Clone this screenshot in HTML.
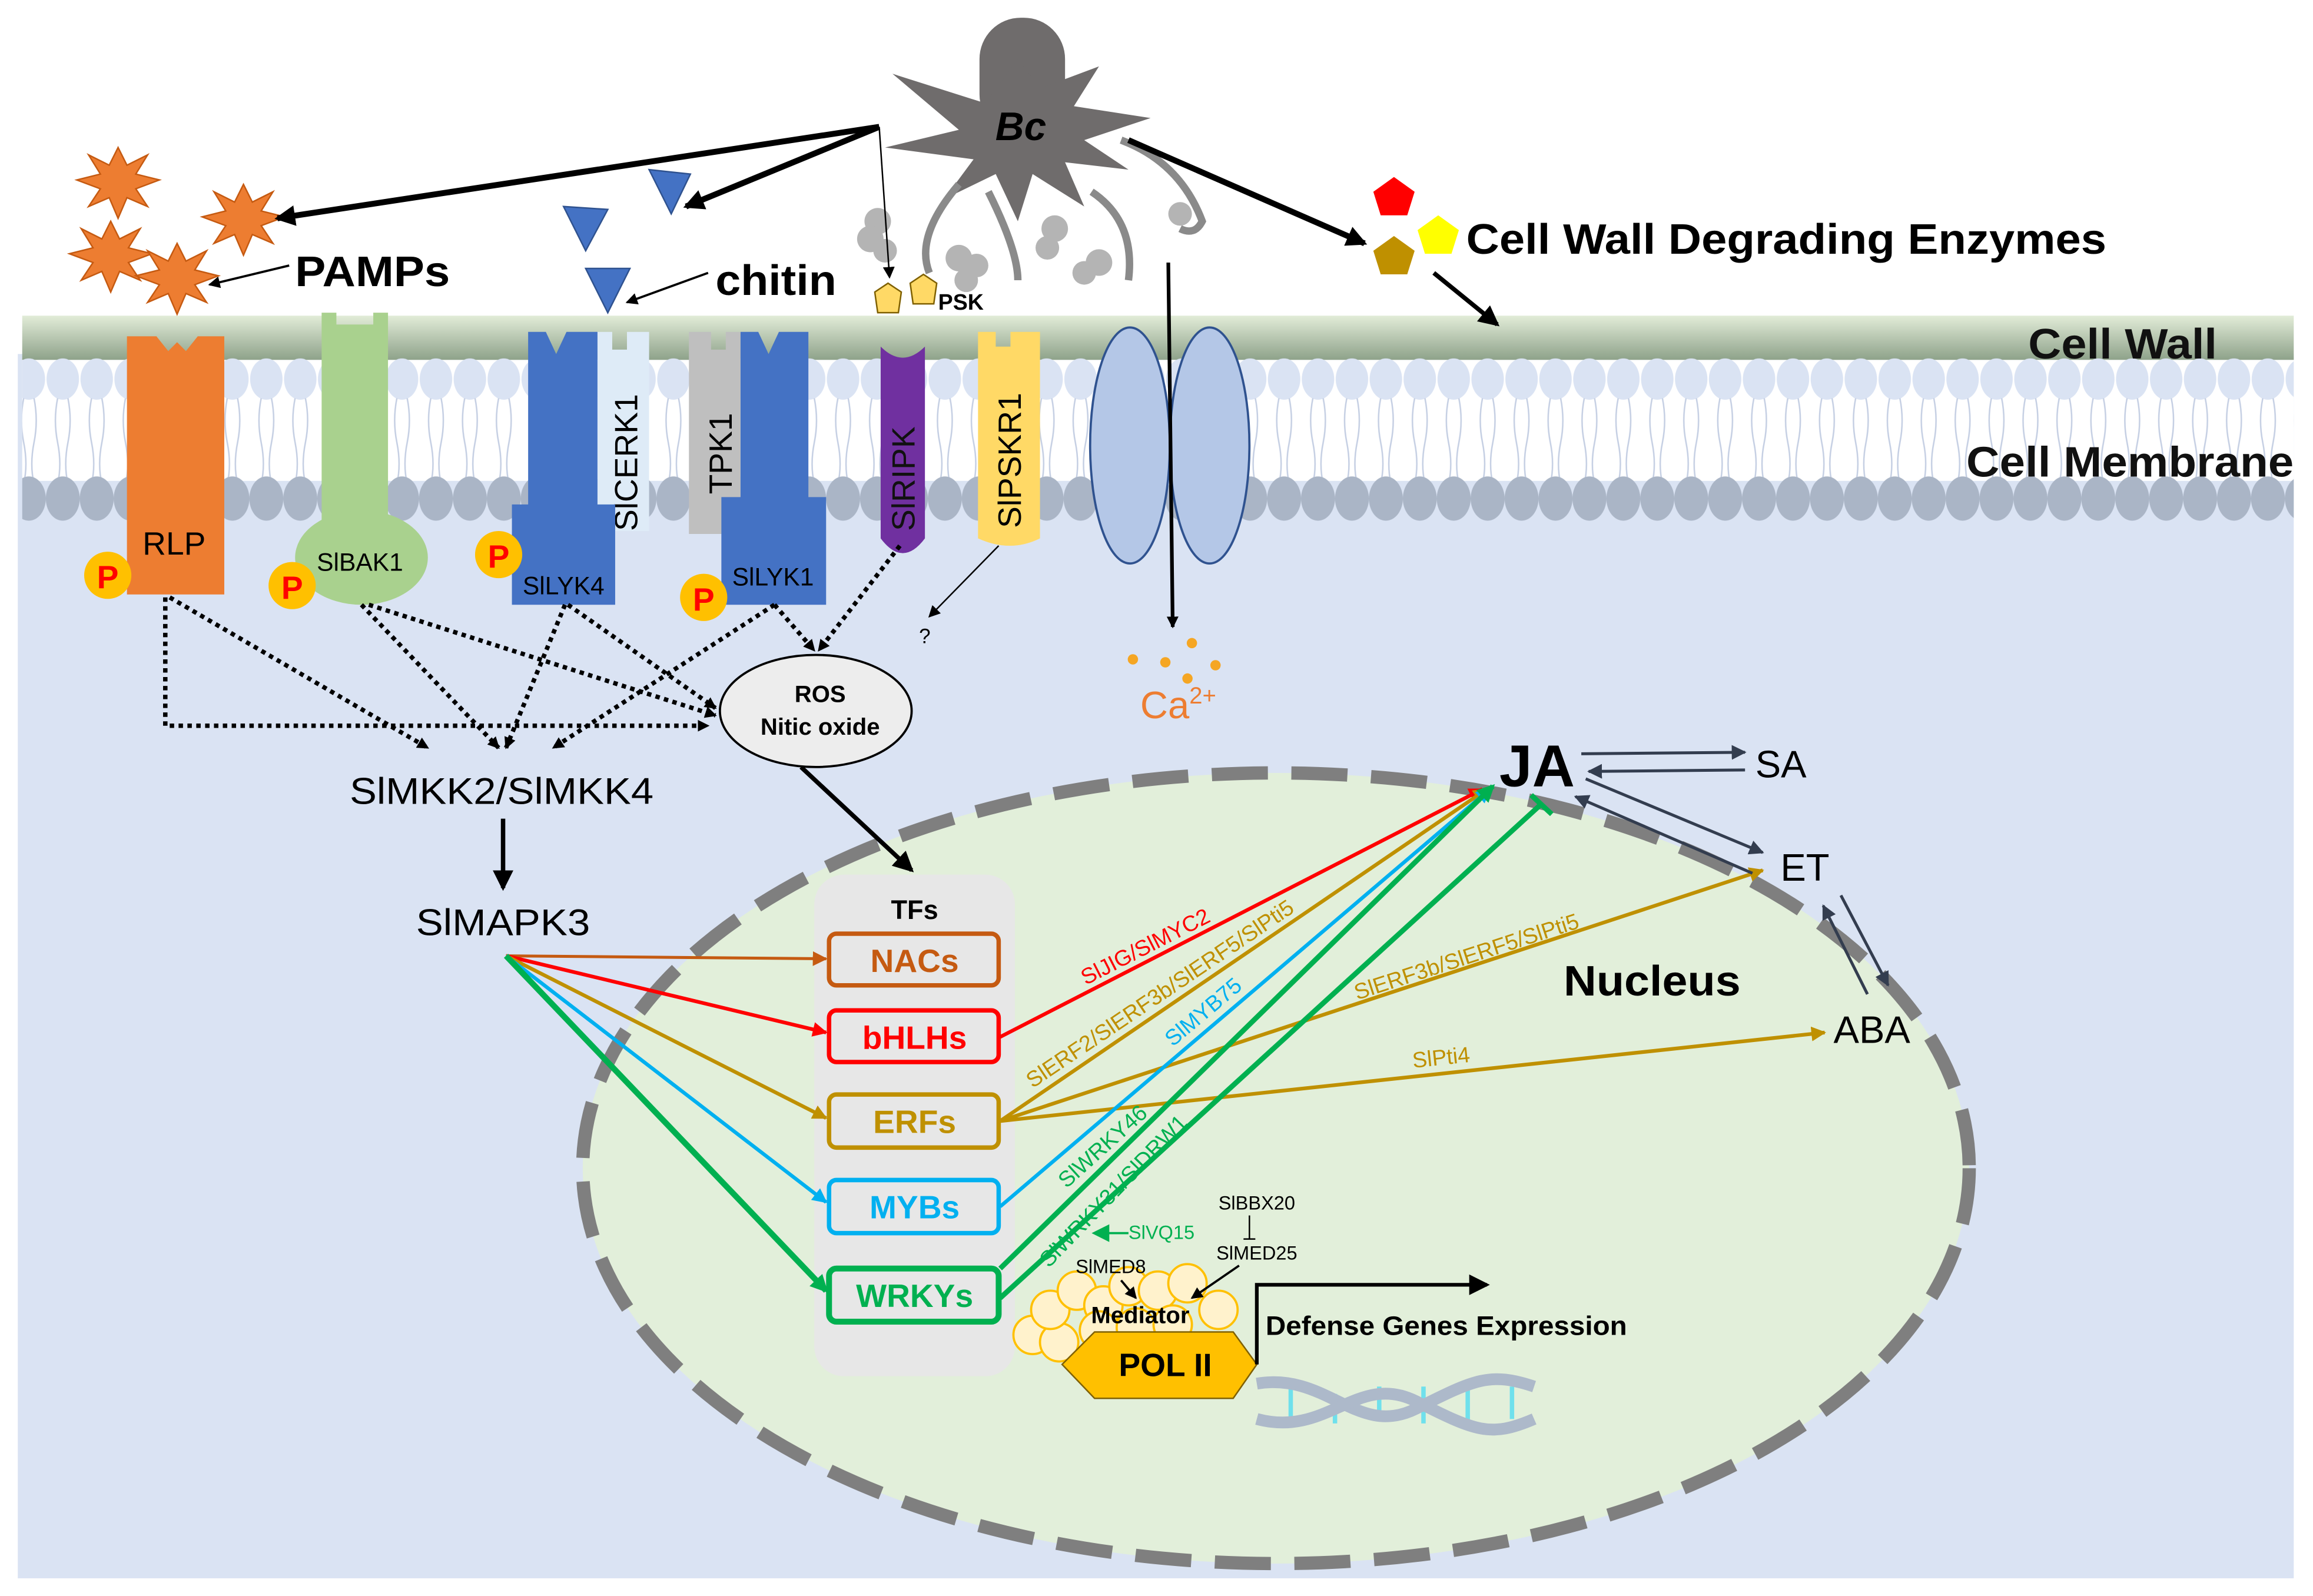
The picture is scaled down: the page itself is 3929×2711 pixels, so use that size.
<!DOCTYPE html>
<html><head><meta charset="utf-8"><style>html,body{margin:0;padding:0;background:#fff}svg{display:block}text{font-family:"Liberation Sans",Arial,sans-serif}</style></head>
<body>
<svg width="3929" height="2711" viewBox="0 0 1568 1082" xmlns="http://www.w3.org/2000/svg">
<defs>
<linearGradient id="cw" x1="0" y1="0" x2="0" y2="1"><stop offset="0" stop-color="#e2ecd8"/><stop offset="1" stop-color="#8ea28a"/></linearGradient>
<pattern id="tb" x="8" y="0" width="23" height="400" patternUnits="userSpaceOnUse"><ellipse cx="11.5" cy="257" rx="11" ry="14" fill="#dae3f3"/><path d="M8 270 q-3 15 0 30 q3 15 0 28 M15 270 q3 15 0 30 q-3 15 0 28" stroke="#c5cfe3" stroke-width="1" fill="none"/></pattern>
<pattern id="bb" x="8" y="0" width="23" height="400" patternUnits="userSpaceOnUse"><ellipse cx="11.5" cy="338" rx="11.5" ry="15" fill="#aab5c6"/></pattern>
<marker id="a" markerWidth="8" markerHeight="8" refX="7" refY="4" orient="auto" markerUnits="userSpaceOnUse"><path d="M0 0L8 4L0 8z" fill="#000"/></marker>
<marker id="ab" markerWidth="14" markerHeight="14" refX="12" refY="7" orient="auto" markerUnits="userSpaceOnUse"><path d="M0 0L14 7L0 14z" fill="#000"/></marker>
<marker id="ad" markerWidth="10" markerHeight="10" refX="9" refY="5" orient="auto" markerUnits="userSpaceOnUse"><path d="M0 0L10 5L0 10z" fill="#333d4f"/></marker>
<marker id="ao" markerWidth="10" markerHeight="10" refX="9" refY="5" orient="auto" markerUnits="userSpaceOnUse"><path d="M0 0L10 5L0 10z" fill="#c55a11"/></marker>
<marker id="ar" markerWidth="10" markerHeight="10" refX="9" refY="5" orient="auto" markerUnits="userSpaceOnUse"><path d="M0 0L10 5L0 10z" fill="#f00"/></marker>
<marker id="ay" markerWidth="10" markerHeight="10" refX="9" refY="5" orient="auto" markerUnits="userSpaceOnUse"><path d="M0 0L10 5L0 10z" fill="#bf9000"/></marker>
<marker id="ac" markerWidth="10" markerHeight="10" refX="9" refY="5" orient="auto" markerUnits="userSpaceOnUse"><path d="M0 0L10 5L0 10z" fill="#00b0f0"/></marker>
<marker id="ag" markerWidth="12" markerHeight="12" refX="10" refY="6" orient="auto" markerUnits="userSpaceOnUse"><path d="M0 0L12 6L0 12z" fill="#00b050"/></marker>
</defs>
<rect width="1568" height="1082" fill="#fff"/>
<!-- cell -->
<rect x="12" y="240" width="1543" height="830" fill="#dae3f3"/>
<rect x="15" y="214" width="1540" height="30" fill="url(#cw)"/>
<rect x="15" y="244" width="1540" height="82" fill="#fff"/>
<rect x="15" y="240" width="1540" height="90" fill="url(#tb)"/>
<rect x="15" y="322" width="1540" height="34" fill="url(#bb)"/>
<text x="1375" y="243" font-size="29" font-weight="bold" textLength="128" lengthAdjust="spacingAndGlyphs" fill="#111">Cell Wall</text>
<text x="1333" y="323" font-size="29" font-weight="bold" textLength="222" lengthAdjust="spacingAndGlyphs" fill="#111">Cell Membrane</text>
<!-- nucleus -->
<ellipse cx="865" cy="792" rx="470" ry="268" fill="#e2efda" stroke="#7f7f7f" stroke-width="9" stroke-dasharray="38 16"/>
<text x="1060" y="675" font-size="29" font-weight="bold" textLength="120" lengthAdjust="spacingAndGlyphs">Nucleus</text>
<!-- fungus -->
<rect x="664" y="12" width="58" height="80" rx="28" fill="#6f6c6c"/>
<polygon points="690,40 705,60 745,45 728,72 780,80 735,95 765,115 722,110 735,140 700,118 690,150 675,118 640,135 660,108 600,100 650,88 605,50 668,70" fill="#6f6c6c"/>
<text x="692" y="95" font-size="27" font-weight="bold" font-style="italic" text-anchor="middle">Bc</text>
<g stroke="#8a8a8a" stroke-width="5" fill="none">
<path d="M650 125 Q620 160 630 185"/><path d="M670 130 Q690 170 690 190"/><path d="M740 130 Q770 150 765 190"/><path d="M760 95 Q800 110 815 150 Q810 160 800 155"/>
</g>
<g fill="#b4b4b4"><circle cx="595" cy="150" r="9"/><circle cx="590" cy="162" r="9"/><circle cx="600" cy="170" r="8"/><circle cx="650" cy="175" r="9"/><circle cx="662" cy="180" r="8"/><circle cx="655" cy="190" r="8"/><circle cx="715" cy="155" r="9"/><circle cx="710" cy="168" r="8"/><circle cx="745" cy="178" r="9"/><circle cx="735" cy="185" r="8"/><circle cx="800" cy="145" r="8"/></g>
<!-- PAMPs stars -->
<g fill="#ed7d31" stroke="#c55a11" stroke-width="1">
<polygon points="80,100 86,112 100,105 92,118 108,122 92,128 100,140 86,134 80,148 74,134 60,140 68,128 52,122 68,118 60,105 74,112"/>
<polygon points="165,125 171,137 185,130 177,143 193,147 177,153 185,165 171,159 165,173 159,159 145,165 153,153 137,147 153,143 145,130 159,137"/>
<polygon points="75,150 81,162 95,155 87,168 103,172 87,178 95,190 81,184 75,198 69,184 55,190 63,178 47,172 63,168 55,155 69,162"/>
<polygon points="120,165 126,177 140,170 132,183 148,187 132,193 140,205 126,199 120,213 114,199 100,205 108,193 92,187 108,183 100,170 114,177"/>
</g>
<text x="200" y="194" font-size="29" font-weight="bold" textLength="105" lengthAdjust="spacingAndGlyphs">PAMPs</text>
<line x1="196" y1="180" x2="142" y2="193" stroke="#000" stroke-width="1.5" marker-end="url(#a)"/>
<!-- chitin -->
<g fill="#4472c4" stroke="#2f528f"><polygon points="440,115 468,118 455,145"/><polygon points="382,140 412,142 397,170"/><polygon points="397,182 427,182 412,212"/></g>
<text x="485" y="200" font-size="29" font-weight="bold" textLength="82" lengthAdjust="spacingAndGlyphs">chitin</text>
<line x1="480" y1="185" x2="425" y2="205" stroke="#000" stroke-width="1.5" marker-end="url(#a)"/>
<!-- PSK -->
<g fill="#ffd966" stroke="#7f6000"><polygon points="602,192 611,198 609,212 595,212 593,198"/><polygon points="626,186 635,192 633,206 619,206 617,192"/></g>
<text x="636" y="210" font-size="15" font-weight="bold">PSK</text>
<!-- CWDE -->
<polygon points="945,120 959,130 954,146 936,146 931,130" fill="#f00"/>
<polygon points="975,146 989,156 984,172 966,172 961,156" fill="#ff0"/>
<polygon points="945,160 959,170 954,186 936,186 931,170" fill="#bf9000"/>
<text x="994" y="172" font-size="29" font-weight="bold" textLength="434" lengthAdjust="spacingAndGlyphs">Cell Wall Degrading Enzymes</text>
<!-- Bc arrows -->
<g stroke="#000" stroke-width="4" fill="none">
<line x1="596" y1="86" x2="188" y2="148" marker-end="url(#ab)"/>
<line x1="596" y1="86" x2="465" y2="140" marker-end="url(#ab)"/>
<line x1="765" y1="95" x2="925" y2="165" marker-end="url(#ab)"/>
<line x1="972" y1="185" x2="1015" y2="220" stroke-width="3" marker-end="url(#ab)"/>
</g>
<line x1="596" y1="86" x2="603" y2="188" stroke="#000" stroke-width="1" marker-end="url(#a)"/>
<!-- receptors -->
<path d="M86 228 h20 l8 10 l6 -6 l6 6 l8 -10 h18 v175 h-66z" fill="#ed7d31"/>
<text x="118" y="376" font-size="22" text-anchor="middle">RLP</text>
<path d="M218 212 h10 v8 h25 v-8 h10 v158 h-45z" fill="#a9d18e"/>
<ellipse cx="245" cy="378" rx="45" ry="32" fill="#a9d18e"/>
<text x="244" y="387" font-size="17" text-anchor="middle">SlBAK1</text>
<path d="M405 225 h10 v12 h10 v-12 h15 v135 h-35z" fill="#deebf7"/>
<text transform="translate(432,360) rotate(-90)" font-size="22">SlCERK1</text>
<path d="M358 225 h12 l7 15 l7 -15 h21 v117 h12 v68 h-70 v-68 h11z" fill="#4472c4"/>
<text x="382" y="403" font-size="17" text-anchor="middle">SlLYK4</text>
<path d="M467 225 h15 v12 h10 v-12 h10 v137 h-35z" fill="#bfbfbf"/>
<text transform="translate(496,335) rotate(-90)" font-size="22">TPK1</text>
<path d="M502 225 h12 l7 15 l7 -15 h20 v112 h12 v73 h-71 v-73 h13z" fill="#4472c4"/>
<text x="524" y="397" font-size="17" text-anchor="middle">SlLYK1</text>
<path d="M597 235 q15 15 30 0 v130 q-15 20 -30 0z" fill="#7030a0"/>
<text transform="translate(620,360) rotate(-90)" font-size="22" fill="#111">SlRIPK</text>
<path d="M663 225 h12 v10 h10 v-10 h20 v140 q-20 10 -42 0z" fill="#ffd966"/>
<text transform="translate(692,358) rotate(-90)" font-size="22">SlPSKR1</text>
<!-- channel -->
<ellipse cx="766" cy="302" rx="27" ry="80" fill="#b4c7e7" stroke="#2f528f" stroke-width="1.5"/>
<ellipse cx="820" cy="302" rx="27" ry="80" fill="#b4c7e7" stroke="#2f528f" stroke-width="1.5"/>
<line x1="792" y1="178" x2="795" y2="425" stroke="#000" stroke-width="2.5" marker-end="url(#a)"/>
<g fill="#f5a623"><circle cx="808" cy="436" r="3.5"/><circle cx="768" cy="447" r="3.5"/><circle cx="790" cy="449" r="3.5"/><circle cx="824" cy="451" r="3.5"/><circle cx="805" cy="460" r="3.5"/></g>
<text x="773" y="487" font-size="26" fill="#ed7d31">Ca<tspan font-size="16" dy="-10">2+</tspan></text>
<!-- P circles -->
<g font-size="22" font-weight="bold" fill="#f00" text-anchor="middle">
<circle cx="73" cy="390" r="16" fill="#ffc000"/><text x="73" y="399">P</text>
<circle cx="198" cy="397" r="16" fill="#ffc000"/><text x="198" y="406">P</text>
<circle cx="338" cy="376" r="16" fill="#ffc000"/><text x="338" y="385">P</text>
<circle cx="477" cy="405" r="16" fill="#ffc000"/><text x="477" y="414">P</text>
</g>
<!-- dotted arrows -->
<g stroke="#000" stroke-width="3" stroke-dasharray="3 3" fill="none">
<path d="M112 405 V492 H480" marker-end="url(#a)"/>
<line x1="115" y1="405" x2="290" y2="507" marker-end="url(#a)"/>
<line x1="245" y1="410" x2="338" y2="507" marker-end="url(#a)"/>
<line x1="250" y1="410" x2="485" y2="485" marker-end="url(#a)"/>
<line x1="383" y1="410" x2="343" y2="507" marker-end="url(#a)"/>
<line x1="385" y1="410" x2="485" y2="480" marker-end="url(#a)"/>
<line x1="525" y1="410" x2="375" y2="507" marker-end="url(#a)"/>
<line x1="525" y1="410" x2="552" y2="441" marker-end="url(#a)"/>
<line x1="610" y1="370" x2="555" y2="441" marker-end="url(#a)"/>
</g>
<line x1="677" y1="370" x2="630" y2="418" stroke="#000" stroke-width="1" marker-end="url(#a)"/>
<text x="623" y="436" font-size="14">?</text>
<!-- ROS -->
<ellipse cx="553" cy="482" rx="65" ry="38" fill="#ededed" stroke="#000" stroke-width="1.5"/>
<text x="556" y="476" font-size="16" font-weight="bold" text-anchor="middle">ROS</text>
<text x="556" y="498" font-size="16" font-weight="bold" text-anchor="middle">Nitic oxide</text>
<line x1="543" y1="520" x2="618" y2="590" stroke="#000" stroke-width="3" marker-end="url(#ab)"/>
<text x="340" y="545" font-size="25" text-anchor="middle" textLength="206" lengthAdjust="spacingAndGlyphs">SlMKK2/SlMKK4</text>
<line x1="341" y1="555" x2="341" y2="602" stroke="#000" stroke-width="3" marker-end="url(#ab)"/>
<text x="341" y="634" font-size="25" text-anchor="middle" textLength="118" lengthAdjust="spacingAndGlyphs">SlMAPK3</text>
<!-- TFs -->
<rect x="552" y="593" width="136" height="340" rx="20" fill="#e7e7e7"/>
<text x="620" y="623" font-size="18" font-weight="bold" text-anchor="middle">TFs</text>
<g stroke-width="3" fill="none">
<rect x="562" y="633" width="115" height="35" rx="5" stroke="#c55a11"/>
<rect x="562" y="685" width="115" height="35" rx="5" stroke="#f00"/>
<rect x="562" y="742" width="115" height="36" rx="5" stroke="#bf9000"/>
<rect x="562" y="800" width="115" height="36" rx="5" stroke="#00b0f0"/>
<rect x="562" y="860" width="115" height="36" rx="5" stroke="#00b050" stroke-width="4"/>
</g>
<g font-size="22" font-weight="bold" text-anchor="middle">
<text x="620" y="659" fill="#c55a11">NACs</text>
<text x="620" y="711" fill="#f00">bHLHs</text>
<text x="620" y="768" fill="#bf9000">ERFs</text>
<text x="620" y="826" fill="#00b0f0">MYBs</text>
<text x="620" y="886" fill="#00b050">WRKYs</text>
</g>
<!-- MAPK3 arrows -->
<line x1="343" y1="648" x2="560" y2="650" stroke="#c55a11" stroke-width="2" marker-end="url(#ao)"/>
<line x1="343" y1="648" x2="560" y2="700" stroke="#f00" stroke-width="2.5" marker-end="url(#ar)"/>
<line x1="343" y1="648" x2="560" y2="758" stroke="#bf9000" stroke-width="2.5" marker-end="url(#ay)"/>
<line x1="343" y1="648" x2="560" y2="815" stroke="#00b0f0" stroke-width="2.5" marker-end="url(#ac)"/>
<line x1="343" y1="648" x2="560" y2="875" stroke="#00b050" stroke-width="4" marker-end="url(#ag)"/>
<!-- to JA etc -->
<line x1="678" y1="703" x2="1005" y2="535" stroke="#f00" stroke-width="2.5" marker-end="url(#ar)"/>
<line x1="678" y1="760" x2="1008" y2="535" stroke="#bf9000" stroke-width="2.5" marker-end="url(#ay)"/>
<line x1="678" y1="760" x2="1195" y2="590" stroke="#bf9000" stroke-width="2.5" marker-end="url(#ay)"/>
<line x1="678" y1="760" x2="1237" y2="700" stroke="#bf9000" stroke-width="2.5" marker-end="url(#ay)"/>
<line x1="678" y1="818" x2="1010" y2="535" stroke="#00b0f0" stroke-width="2.5" marker-end="url(#ac)"/>
<line x1="678" y1="860" x2="1012" y2="533" stroke="#00b050" stroke-width="3.5" marker-end="url(#ag)"/>
<line x1="678" y1="880" x2="1045" y2="545" stroke="#00b050" stroke-width="3.5"/>
<line x1="1038" y1="539" x2="1052" y2="552" stroke="#00b050" stroke-width="3.5"/>
<g font-size="15">
<text transform="translate(736,668) rotate(-27)" fill="#f00">SlJIG/SlMYC2</text>
<text transform="translate(700,738) rotate(-34)" fill="#bf9000">SlERF2/SlERF3b/SlERF5/SlPti5</text>
<text transform="translate(795,710) rotate(-40)" fill="#00b0f0">SlMYB75</text>
<text transform="translate(920,678) rotate(-18)" fill="#bf9000">SlERF3b/SlERF5/SlPti5</text>
<text transform="translate(958,724) rotate(-6)" fill="#bf9000">SlPti4</text>
<text transform="translate(723,806) rotate(-42)" fill="#00b050">SlWRKY46</text>
<text transform="translate(711,860) rotate(-46)" fill="#00b050">SlWRKY31/SlDRW1</text>
</g>
<!-- hormones -->
<text x="1042" y="533" font-size="40" font-weight="bold" text-anchor="middle">JA</text>
<text x="1190" y="527" font-size="26">SA</text>
<text x="1207" y="597" font-size="26">ET</text>
<text x="1243" y="707" font-size="26">ABA</text>
<g stroke="#333d4f" stroke-width="2">
<line x1="1072" y1="511" x2="1183" y2="510" marker-end="url(#ad)"/>
<line x1="1183" y1="522" x2="1077" y2="523" marker-end="url(#ad)"/>
<line x1="1075" y1="528" x2="1195" y2="578" marker-end="url(#ad)"/>
<line x1="1188" y1="592" x2="1068" y2="540" marker-end="url(#ad)"/>
<line x1="1248" y1="607" x2="1280" y2="668" marker-end="url(#ad)"/>
<line x1="1266" y1="674" x2="1236" y2="614" marker-end="url(#ad)"/>
</g>
<!-- mediator -->
<text x="852" y="820" font-size="13" text-anchor="middle">SlBBX20</text>
<line x1="847" y1="824" x2="847" y2="840" stroke="#000"/><line x1="843" y1="840" x2="851" y2="840" stroke="#000"/>
<text x="852" y="854" font-size="13" text-anchor="middle">SlMED25</text>
<g fill="#fff2cc" stroke="#ffc000" stroke-width="1.5">
<circle cx="700" cy="905" r="13"/><circle cx="718" cy="910" r="13"/><circle cx="712" cy="888" r="13"/><circle cx="730" cy="875" r="13"/><circle cx="748" cy="885" r="13"/><circle cx="765" cy="872" r="13"/><circle cx="785" cy="875" r="13"/><circle cx="805" cy="870" r="13"/><circle cx="826" cy="888" r="13"/><circle cx="745" cy="902" r="13"/><circle cx="770" cy="900" r="13"/><circle cx="795" cy="898" r="13"/>
</g>
<text x="753" y="863" font-size="13" text-anchor="middle">SlMED8</text>
<text x="765" y="840" font-size="13" fill="#00b050">SlVQ15</text>
<line x1="765" y1="836" x2="742" y2="836" stroke="#00b050" stroke-width="1.5" marker-end="url(#ag)"/>
<polygon points="720,925 742,903 836,903 852,925 836,948 742,948" fill="#ffc000" stroke="#7f6000"/>
<text x="790" y="933" font-size="22" font-weight="bold" text-anchor="middle">POL II</text>
<text x="773" y="897" font-size="16" font-weight="bold" text-anchor="middle">Mediator</text>
<line x1="760" y1="868" x2="770" y2="880" stroke="#000" stroke-width="1.5" marker-end="url(#a)"/>
<line x1="840" y1="858" x2="808" y2="880" stroke="#000" stroke-width="1.5" marker-end="url(#a)"/>
<path d="M852 925 V871 H1008" stroke="#000" stroke-width="2.5" fill="none" marker-end="url(#ab)"/>
<text x="858" y="905" font-size="18" font-weight="bold" textLength="245" lengthAdjust="spacingAndGlyphs">Defense Genes Expression</text>
<!-- DNA -->
<g stroke="#6fe0ec" stroke-width="3"><line x1="875" y1="940" x2="875" y2="965"/><line x1="905" y1="945" x2="905" y2="965"/><line x1="935" y1="940" x2="935" y2="962"/><line x1="965" y1="940" x2="965" y2="965"/><line x1="995" y1="942" x2="995" y2="965"/><line x1="1025" y1="940" x2="1025" y2="962"/></g>
<path d="M852 938 C900 930 920 975 960 955 S1010 930 1040 940" stroke="#adb9ca" stroke-width="8" fill="none"/>
<path d="M852 962 C900 975 920 930 960 950 S1010 975 1040 962" stroke="#adb9ca" stroke-width="8" fill="none"/>
</svg>
</body></html>
